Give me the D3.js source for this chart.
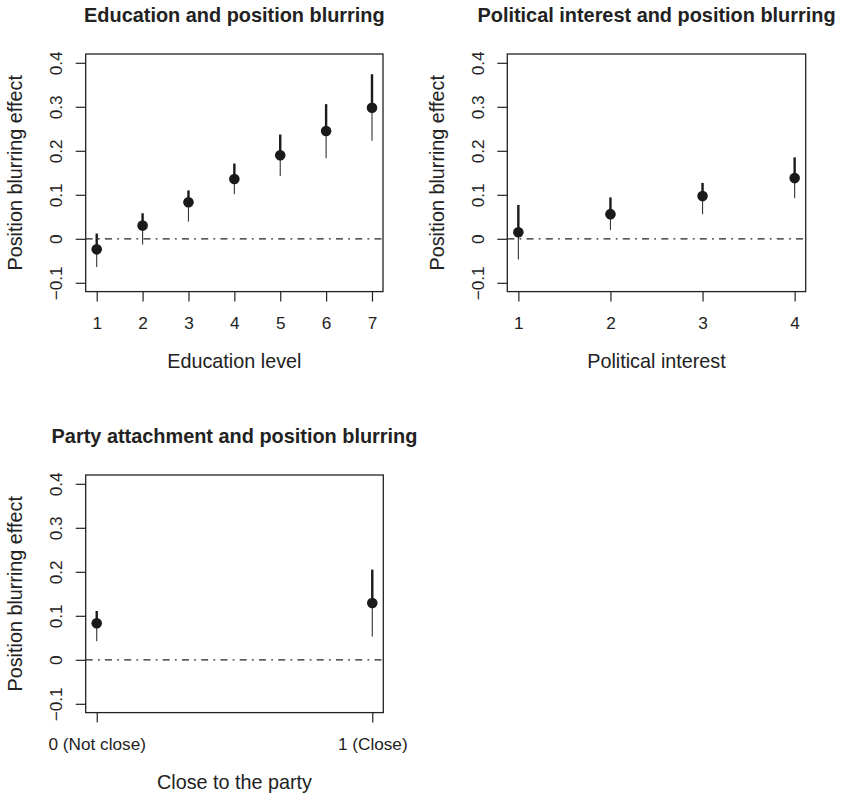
<!DOCTYPE html>
<html>
<head>
<meta charset="utf-8">
<script src="https://cdn.jsdelivr.net/npm/d3@7"></script>
<style>
  html, body { margin: 0; padding: 0; background: #fff; }
  svg { display: block; }
  text { font-family: "Liberation Sans", Arial, Helvetica, sans-serif; fill: #222; }
</style>
</head>
<body>
<svg id="chart" width="841" height="796"></svg>
<script>
// Shared vertical axis
const yTicks = [-0.1, 0, 0.1, 0.2, 0.3, 0.4];
const yLabel = "Position blurring effect";

// Panel 1: education
const eduLevels = [1, 2, 3, 4, 5, 6, 7];
const eduEst  = [-0.024, 0.030, 0.083, 0.136, 0.190, 0.245, 0.298];
const eduLow  = [-0.064, -0.013, 0.039, 0.101, 0.143, 0.183, 0.223];
const eduHigh = [0.012, 0.058, 0.110, 0.171, 0.237, 0.306, 0.374];

// Panel 2: political interest
const intLevels = [1, 2, 3, 4];
const intEst  = [0.015, 0.056, 0.097, 0.138];
const intLow  = [-0.047, 0.020, 0.056, 0.092];
const intHigh = [0.077, 0.094, 0.127, 0.185];

// Panel 3: party attachment
const partyLevels = [0, 1];
const partyTickLabels = ["0 (Not close)", "1 (Close)"];
const partyEst  = [0.083, 0.129];
const partyLow  = [0.042, 0.053];
const partyHigh = [0.111, 0.205];

const panels = [
  { title: "Education and position blurring", xLabel: "Education level",
    levels: eduLevels, tickLabels: eduLevels.map(String),
    est: eduEst, low: eduLow, high: eduHigh,
    left: 85.7, top: 54, width: 297.3 },
  { title: "Political interest and position blurring", xLabel: "Political interest",
    levels: intLevels, tickLabels: intLevels.map(String),
    est: intEst, low: intLow, high: intHigh,
    left: 507.3, top: 54, width: 298.4 },
  { title: "Party attachment and position blurring", xLabel: "Close to the party",
    levels: partyLevels, tickLabels: partyTickLabels,
    est: partyEst, low: partyLow, high: partyHigh,
    left: 85.7, top: 475, width: 297.6 }
];

const boxHeight = 237.6;
const ink = "#222";
const svg = d3.select("#chart");

// R-style 4% padding around the data range
function padded(lo, hi) {
  const d = (hi - lo) * 0.04;
  return [lo - d, hi + d];
}

panels.forEach(p => {
  const g = svg.append("g").attr("transform", `translate(${p.left},${p.top})`);
  const x = d3.scaleLinear()
    .domain(padded(d3.min(p.levels), d3.max(p.levels)))
    .range([0, p.width]);
  const y = d3.scaleLinear()
    .domain(padded(-0.1, 0.4))
    .range([boxHeight, 0]);

  // reference line at zero (dot-dash)
  g.append("line")
    .attr("x1", 0).attr("x2", p.width)
    .attr("y1", y(0)).attr("y2", y(0))
    .attr("stroke", "#222").attr("stroke-width", 1.2)
    .attr("stroke-dasharray", "7,5.25,1.75,5.25");

  // x axis
  const xAxis = g.append("g")
    .attr("transform", `translate(0,${boxHeight})`)
    .call(d3.axisBottom(x).tickValues(p.levels)
      .tickFormat((d, i) => p.tickLabels[i])
      .tickSize(10).tickSizeOuter(0));
  xAxis.select(".domain").remove();
  xAxis.selectAll("line").attr("stroke", ink).attr("stroke-width", 1.2);
  xAxis.selectAll("text")
    .attr("font-size", "17.2px").attr("fill", ink)
    .attr("font-family", null).attr("dy", null)
    .attr("y", 37.5);

  // y axis with labels turned parallel to the axis
  const yAxis = g.append("g")
    .call(d3.axisLeft(y).tickValues(yTicks)
      .tickFormat(d => d === 0 ? "0" : d3.format(".1f")(d).replace("-", "\u2212"))
      .tickSize(10).tickSizeOuter(0));
  yAxis.select(".domain").remove();
  yAxis.selectAll("line").attr("stroke", ink).attr("stroke-width", 1.2);
  yAxis.selectAll("text")
    .attr("font-size", "17.2px").attr("fill", ink)
    .attr("font-family", null).attr("dy", null)
    .attr("x", null)
    .attr("text-anchor", "middle")
    .attr("transform", "translate(-23.5,0) rotate(-90)");

  // plot frame
  g.append("rect")
    .attr("x", 0).attr("y", 0)
    .attr("width", p.width).attr("height", boxHeight)
    .attr("fill", "none").attr("stroke", ink).attr("stroke-width", 1.3);

  const rows = p.levels.map((lv, i) => ({ lv, est: p.est[i], low: p.low[i], high: p.high[i] }));

  // lower interval half (thin)
  g.selectAll(".ci-low").data(rows).join("line")
    .attr("x1", d => x(d.lv)).attr("x2", d => x(d.lv))
    .attr("y1", d => y(d.low)).attr("y2", d => y(d.est))
    .attr("stroke", "#333").attr("stroke-width", 1.1);

  // upper interval half (thick)
  g.selectAll(".ci-high").data(rows).join("line")
    .attr("x1", d => x(d.lv)).attr("x2", d => x(d.lv))
    .attr("y1", d => y(d.est)).attr("y2", d => y(d.high))
    .attr("stroke", "#1a1a1a").attr("stroke-width", 2.4);

  // point estimates
  g.selectAll(".pt").data(rows).join("circle")
    .attr("cx", d => x(d.lv)).attr("cy", d => y(d.est))
    .attr("r", 5.3).attr("fill", "#1a1a1a");

  // titles and axis labels
  g.append("text")
    .attr("x", p.width / 2).attr("y", -32.5)
    .attr("text-anchor", "middle")
    .attr("font-size", "19.9px").attr("font-weight", "bold")
    .text(p.title);

  g.append("text")
    .attr("x", p.width / 2).attr("y", boxHeight + 76)
    .attr("text-anchor", "middle")
    .attr("font-size", "19.8px")
    .text(p.xLabel);

  g.append("text")
    .attr("transform", `translate(-63.2,${boxHeight / 2}) rotate(-90)`)
    .attr("text-anchor", "middle")
    .attr("font-size", "19.8px")
    .text(yLabel);
});
</script>
</body>
</html>
